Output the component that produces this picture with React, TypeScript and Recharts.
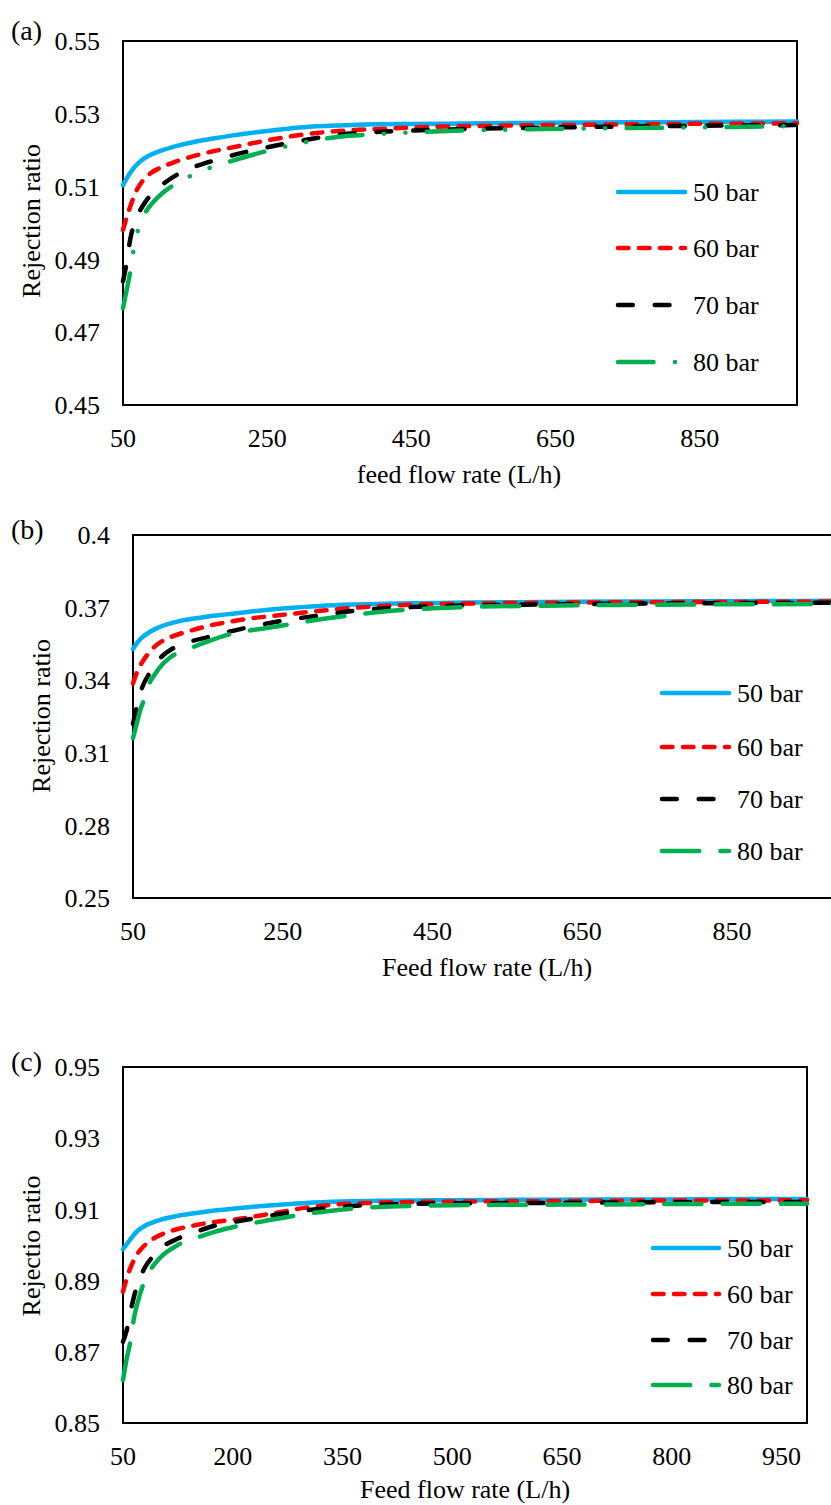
import React from 'react';
import { LineChart, Line, XAxis, YAxis, ReferenceArea, Legend } from 'recharts';

const FONT = "'Liberation Serif', 'Times New Roman', serif";

// feed flow rate (L/h)
const FLOW = [50, 55, 60, 65, 70, 80, 90, 100, 125, 150, 175, 200, 250, 300, 350, 400, 450, 500, 600, 700, 800, 900, 985];

// Panel (a)
const A_50 = [0.5104, 0.5122, 0.5138, 0.5151, 0.5162, 0.5178, 0.5189, 0.5197, 0.5212, 0.5223, 0.5232, 0.524, 0.5253, 0.5263, 0.5268, 0.5271, 0.5272, 0.5273, 0.5275, 0.5276, 0.5277, 0.5278, 0.5279];
const A_60 = [0.4981, 0.5015, 0.5045, 0.5072, 0.5094, 0.5122, 0.5139, 0.515, 0.517, 0.5185, 0.5197, 0.5207, 0.5227, 0.5243, 0.5253, 0.5258, 0.5262, 0.5265, 0.5268, 0.527, 0.5272, 0.5273, 0.5274];
const A_70 = [0.484, 0.489, 0.4955, 0.4995, 0.502, 0.5055, 0.508, 0.5098, 0.5133, 0.5155, 0.5171, 0.5185, 0.5208, 0.5227, 0.5243, 0.525, 0.5254, 0.5257, 0.5261, 0.5264, 0.5266, 0.5268, 0.5269];
const A_80 = [0.4766, 0.4815, 0.4865, 0.493, 0.4975, 0.5025, 0.5053, 0.5074, 0.511, 0.5135, 0.5155, 0.517, 0.5198, 0.5221, 0.5237, 0.5244, 0.5249, 0.5253, 0.5257, 0.526, 0.5262, 0.5264, 0.5266];

// Panel (b)
const B_50 = [0.3529, 0.3552, 0.357, 0.3584, 0.3595, 0.3612, 0.3625, 0.3635, 0.3652, 0.3663, 0.3672, 0.3681, 0.3696, 0.3707, 0.3713, 0.3717, 0.3719, 0.3721, 0.3723, 0.3725, 0.3726, 0.3727, 0.3728];
const B_60 = [0.3387, 0.343, 0.3462, 0.3488, 0.3508, 0.3542, 0.3563, 0.3578, 0.3603, 0.3624, 0.3639, 0.3652, 0.367, 0.3687, 0.37, 0.3709, 0.3714, 0.3717, 0.372, 0.3722, 0.3723, 0.3724, 0.3725];
const B_70 = [0.322, 0.329, 0.335, 0.339, 0.3418, 0.3468, 0.3502, 0.3525, 0.3558, 0.3578, 0.3598, 0.3616, 0.3646, 0.3668, 0.3688, 0.3699, 0.3705, 0.3709, 0.3713, 0.3716, 0.3718, 0.3719, 0.372];
const B_80 = [0.3161, 0.322, 0.328, 0.332, 0.3372, 0.3428, 0.3468, 0.3495, 0.353, 0.356, 0.3586, 0.3602, 0.3626, 0.3652, 0.3672, 0.3688, 0.3697, 0.3703, 0.3708, 0.3711, 0.3713, 0.3714, 0.3715];

// Panel (c)
const C_50 = [0.8988, 0.9002, 0.9016, 0.9029, 0.904, 0.9054, 0.9063, 0.907, 0.9082, 0.909, 0.9097, 0.9102, 0.9111, 0.9118, 0.9122, 0.9124, 0.9125, 0.9126, 0.9127, 0.9128, 0.9128, 0.9129, 0.9129];
const C_60 = [0.8869, 0.8905, 0.8935, 0.8958, 0.8976, 0.9, 0.9016, 0.9027, 0.9045, 0.9056, 0.9065, 0.9071, 0.9087, 0.9105, 0.9115, 0.9119, 0.9121, 0.9122, 0.9123, 0.9124, 0.9125, 0.9125, 0.9126];
const C_70 = [0.8728, 0.876, 0.881, 0.8855, 0.889, 0.8937, 0.8966, 0.8988, 0.9018, 0.9037, 0.9054, 0.9064, 0.9082, 0.9097, 0.9108, 0.9113, 0.9116, 0.9117, 0.9118, 0.9119, 0.912, 0.9121, 0.9121];
const C_80 = [0.8621, 0.868, 0.8728, 0.8795, 0.8838, 0.8902, 0.8938, 0.8963, 0.9, 0.902, 0.9037, 0.905, 0.907, 0.9087, 0.91, 0.9107, 0.911, 0.9112, 0.9113, 0.9114, 0.9115, 0.9116, 0.9116];

const SERIES_NAMES = ['50 bar', '60 bar', '70 bar', '80 bar'];
const SERIES_KEYS = ['s50', 's60', 's70', 's80'];
const COLORS = ['#00B0F0', '#FF0000', '#000000', '#00B050'];
const DASH_A = ['', '10.5 10.5', '14.8 21.9', '35.5 21.4 0.1 21.4 0.1 21.4'];
const DASH_BC = ['', '10.5 10.5', '14.8 21.9', '37.2 21.2'];

const A_X_TICKS = [50, 250, 450, 650, 850];
const B_X_TICKS = [50, 250, 450, 650, 850];
const C_X_TICKS = [50, 200, 350, 500, 650, 800, 950];
const A_Y_TICKS = [0.45, 0.47, 0.49, 0.51, 0.53, 0.55];
const A_Y_LABELS = ['0.45', '0.47', '0.49', '0.51', '0.53', '0.55'];
const B_Y_TICKS = [0.25, 0.28, 0.31, 0.34, 0.37, 0.4];
const B_Y_LABELS = ['0.25', '0.28', '0.31', '0.34', '0.37', '0.4'];
const C_Y_TICKS = [0.85, 0.87, 0.89, 0.91, 0.93, 0.95];
const C_Y_LABELS = ['0.85', '0.87', '0.89', '0.91', '0.93', '0.95'];

const X_MAX = 985;

function buildRows(s50: number[], s60: number[], s70: number[], s80: number[]) {
  return FLOW.map((x, i) => ({ x, s50: s50[i], s60: s60[i], s70: s70[i], s80: s80[i] }));
}

const A_ROWS = buildRows(A_50, A_60, A_70, A_80);
const B_ROWS = buildRows(B_50, B_60, B_70, B_80);
const C_ROWS = buildRows(C_50, C_60, C_70, C_80);

type PanelProps = {
  top: number;
  width: number;
  height: number;
  marginTop: number;
  marginRight: number;
  yAxisWidth: number;
  xAxisHeight: number;
  rows: any[];
  xTicks: number[];
  yTicks: number[];
  yLabels: string[];
  dashes: string[];
  legend: { x0: number; x1: number; tx: number; rows: number[] };
  tag: string;
  tagY: number;
  yTitle: string;
  yTitleX: number;
  yTitleY: number;
  xTitle: string;
  xTitleX: number;
  xTitleY: number;
};

function Panel(p: PanelProps) {
  const tickStyle = { fontSize: 26, fill: '#000', fontFamily: FONT };
  const legendContent = () => (
    <svg width={p.width} height={p.height} style={{ overflow: 'visible', display: 'block' }}>
      {SERIES_NAMES.map((name, i) => (
        <g key={name}>
          <line
            x1={p.legend.x0 + 2}
            x2={p.legend.x1 - 2}
            y1={p.legend.rows[i]}
            y2={p.legend.rows[i]}
            stroke={COLORS[i]}
            strokeWidth={4.5}
            strokeLinecap="round"
            strokeDasharray={p.dashes[i] || undefined}
          />
          <text x={p.legend.tx} y={p.legend.rows[i]} dy="0.35em" fontSize={26} fontFamily={FONT} fill="#000">
            {name}
          </text>
        </g>
      ))}
    </svg>
  );
  return (
    <div style={{ position: 'absolute', left: 0, top: p.top, width: p.width, height: p.height }}>
      <LineChart
        width={p.width}
        height={p.height}
        data={p.rows}
        margin={{ top: p.marginTop, right: p.marginRight, bottom: 0, left: 0 }}
      >
        <XAxis
          dataKey="x"
          type="number"
          domain={[50, X_MAX]}
          ticks={p.xTicks}
          interval={0}
          tickLine={false}
          axisLine={false}
          tickSize={0}
          tickMargin={24}
          height={p.xAxisHeight}
          tick={tickStyle}
        />
        <YAxis
          type="number"
          domain={[p.yTicks[0], p.yTicks[p.yTicks.length - 1]]}
          ticks={p.yTicks}
          interval={0}
          tickLine={false}
          axisLine={false}
          tickSize={0}
          tickMargin={23}
          width={p.yAxisWidth}
          tick={tickStyle}
          tickFormatter={(v: number, i: number) => p.yLabels[i] ?? String(v)}
        />
        <ReferenceArea
          x1={50}
          x2={X_MAX}
          y1={p.yTicks[0]}
          y2={p.yTicks[p.yTicks.length - 1]}
          fill="none"
          fillOpacity={0}
          stroke="#000"
          strokeWidth={2}
          ifOverflow="visible"
        />
        {SERIES_KEYS.map((k, i) => (
          <Line
            key={k}
            dataKey={k}
            name={SERIES_NAMES[i]}
            type="monotone"
            stroke={COLORS[i]}
            strokeWidth={4.5}
            strokeDasharray={p.dashes[i] || undefined}
            strokeLinecap="round"
            strokeLinejoin="round"
            dot={false}
            activeDot={false}
            isAnimationActive={false}
          />
        ))}
        <Legend
          layout="horizontal"
          verticalAlign="middle"
          align="center"
          content={legendContent}
          wrapperStyle={{ position: 'absolute', left: 0, top: 0, width: p.width, height: p.height, pointerEvents: 'none' }}
        />
      </LineChart>
      <div
        style={{
          position: 'absolute',
          left: 11,
          top: p.tagY,
          transform: 'translateY(-50%)',
          fontSize: 28,
          lineHeight: 1,
          fontFamily: FONT,
          whiteSpace: 'nowrap',
        }}
      >
        {p.tag}
      </div>
      <div
        style={{
          position: 'absolute',
          left: p.yTitleX,
          top: p.yTitleY,
          transform: 'translate(-50%, -50%) rotate(-90deg)',
          fontSize: 26,
          lineHeight: 1,
          fontFamily: FONT,
          whiteSpace: 'nowrap',
        }}
      >
        {p.yTitle}
      </div>
      <div
        style={{
          position: 'absolute',
          left: p.xTitleX,
          top: p.xTitleY,
          transform: 'translate(-50%, -50%)',
          fontSize: 26,
          lineHeight: 1,
          fontFamily: FONT,
          whiteSpace: 'nowrap',
        }}
      >
        {p.xTitle}
      </div>
    </div>
  );
}

export default function App() {
  return (
    <div
      style={{
        position: 'absolute',
        left: 0,
        top: 0,
        width: 831,
        height: 1505,
        overflow: 'hidden',
        background: '#fff',
        fontFamily: FONT,
        color: '#000',
      }}
    >
      <Panel
        top={0}
        width={831}
        height={500}
        marginTop={41}
        marginRight={34}
        yAxisWidth={123}
        xAxisHeight={95}
        rows={A_ROWS}
        xTicks={A_X_TICKS}
        yTicks={A_Y_TICKS}
        yLabels={A_Y_LABELS}
        dashes={DASH_A}
        legend={{ x0: 616, x1: 687, tx: 693, rows: [192, 248, 305, 362] }}
        tag="(a)"
        tagY={31}
        yTitle="Rejection ratio"
        yTitleX={32}
        yTitleY={221}
        xTitle="feed flow rate (L/h)"
        xTitleX={459}
        xTitleY={475}
      />
      <Panel
        top={500}
        width={850}
        height={500}
        marginTop={35}
        marginRight={17}
        yAxisWidth={133}
        xAxisHeight={102}
        rows={B_ROWS}
        xTicks={B_X_TICKS}
        yTicks={B_Y_TICKS}
        yLabels={B_Y_LABELS}
        dashes={DASH_BC}
        legend={{ x0: 660, x1: 731, tx: 737, rows: [193, 247, 299, 351] }}
        tag="(b)"
        tagY={30}
        yTitle="Rejection ratio"
        yTitleX={42}
        yTitleY={216}
        xTitle="Feed flow rate (L/h)"
        xTitleX={487}
        xTitleY={468}
      />
      <Panel
        top={1000}
        width={831}
        height={505}
        marginTop={67}
        marginRight={24}
        yAxisWidth={123}
        xAxisHeight={82}
        rows={C_ROWS}
        xTicks={C_X_TICKS}
        yTicks={C_Y_TICKS}
        yLabels={C_Y_LABELS}
        dashes={DASH_BC}
        legend={{ x0: 651, x1: 721, tx: 727, rows: [248, 294, 340, 385] }}
        tag="(c)"
        tagY={62}
        yTitle="Rejectio ratio"
        yTitleX={32}
        yTitleY={246}
        xTitle="Feed flow rate (L/h)"
        xTitleX={465}
        xTitleY={490}
      />
    </div>
  );
}
